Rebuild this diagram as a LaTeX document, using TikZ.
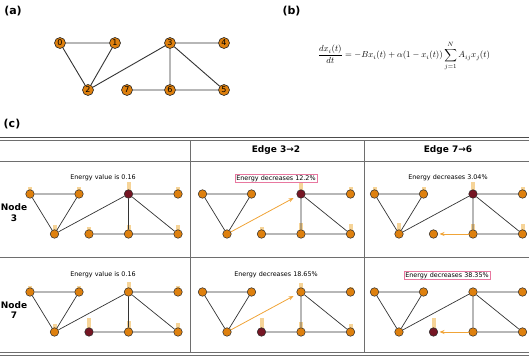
\documentclass[tikz,border=0pt]{standalone}
\usepackage{fontspec}
\setmainfont{DejaVu Sans}
\usepackage{graphicx}
\usetikzlibrary{backgrounds,arrows.meta}
\definecolor{nodeor}{RGB}{222,128,14}
\definecolor{hotred}{RGB}{118,22,36}
\definecolor{barc}{RGB}{246,212,152}
\definecolor{arrc}{RGB}{240,164,56}
\definecolor{pinkc}{RGB}{232,120,160}
\definecolor{rulec}{RGB}{110,110,110}
\newcommand\ebar[2]{\fill[barc] ([xshift=-2pt]#1.center) rectangle ([xshift=2pt,yshift=#2pt]#1.center);}
% #1 style of node 3, #2 style of node 7
\newcommand\cellnodes[2]{%
  \node[cnode] (n0) at (0,0) {};
  \node[cnode] (n1) at (49,0) {};
  \node[cnode,#1] (n3) at (98.5,0) {};
  \node[cnode] (n4) at (148,0) {};
  \node[cnode] (n2) at (24.5,40) {};
  \node[cnode,#2] (n7) at (59,40) {};
  \node[cnode] (n6) at (98.5,40) {};
  \node[cnode] (n5) at (148,40) {};}
\begin{document}
\begin{tikzpicture}[x=1pt,y=-1pt,
  anode/.style={circle,draw=black!85,line width=0.6pt,fill=nodeor,minimum size=11pt,inner sep=0pt,font=\fontsize{8}{8}\selectfont},
  cnode/.style={circle,draw=black!85,line width=0.5pt,fill=nodeor,minimum size=8.5pt,inner sep=0pt},
  hot/.style={fill=hotred},
  aedge/.style={draw=black!80,line width=0.9pt},
  cedge/.style={draw=black!80,line width=0.7pt},
  flow/.style={draw=arrc,line width=0.8pt,-{Stealth[length=5pt,width=4pt]}},
  plabel/.style={font=\fontsize{11}{12}\selectfont\bfseries},
  head/.style={font=\fontsize{9}{10}\selectfont\bfseries},
  rowlab/.style={font=\fontsize{9}{10.5}\selectfont\bfseries,align=center},
  title/.style={font=\fontsize{6.4}{7}\selectfont,inner sep=1pt},
  boxtitle/.style={title,draw=pinkc,line width=0.6pt,inner sep=1.2pt},
  rulel/.style={draw=rulec,line width=0.8pt}]
\useasboundingbox (0,0) rectangle (531,358);

% ---------- panel labels ----------
\node[plabel] (la) at (13,11) {(a)};
\node[plabel] (lb) at (291.5,11) {(b)};
\node[plabel] (lc) at (12,124) {(c)};

% ---------- panel (a) ----------
\node[anode] (a0) at (60,43) {0};
\node[anode] (a1) at (115,43) {1};
\node[anode] (a3) at (170,43) {3};
\node[anode] (a4) at (224,43) {4};
\node[anode] (a2) at (88,90) {2};
\node[anode] (a7) at (127,90) {7};
\node[anode] (a6) at (170,90) {6};
\node[anode] (a5) at (224,90) {5};
\begin{pgfonlayer}{background}
\draw[aedge] (a0)--(a1) (a0)--(a2) (a1)--(a2) (a2)--(a3) (a3)--(a4)
  (a3)--(a6) (a3)--(a5) (a7)--(a6) (a6)--(a5);
\end{pgfonlayer}

% ---------- panel (b) ----------
\node (eq) at (404,56) {\resizebox{172pt}{!}{$\displaystyle \frac{dx_i(t)}{dt}=-Bx_i(t)+\alpha(1-x_i(t))\sum_{j=1}^{N}A_{ij}x_j(t)$}};

% ---------- table rules ----------
\draw[rulel,draw=black!70] (0,137.8) -- (529,137.8);
\draw[rulel] (0,140.6) -- (529,140.6);
\draw[rulel] (0,161) -- (529,161);
\draw[rulel] (0,257) -- (529,257);
\draw[rulel] (0,352.7) -- (529,352.7);
\draw[rulel] (0,355.5) -- (529,355.5);
\draw[rulel] (190,140.6) -- (190,352.7);
\draw[rulel] (364.5,140.6) -- (364.5,352.7);

% headers
\node[head] (h1) at (276,150.5) {Edge 3→2};
\node[head] (h2) at (448,150.5) {Edge 7→6};
\node[rowlab] (r1) at (14,212.5) {Node\\3};
\node[rowlab] (r2) at (14,310) {Node\\7};

% ---------- row 1, col 1 ----------
\node[title] (t11) at (103,178) {Energy value is 0.16};
\begin{scope}[shift={(30,194)},name prefix=A-]
\cellnodes{hot}{}
\begin{pgfonlayer}{background}
\ebar{n0}{7}\ebar{n1}{7}\ebar{n3}{11.5}\ebar{n4}{7}
\ebar{n2}{9}\ebar{n7}{6.7}\ebar{n6}{9}\ebar{n5}{9}
\draw[cedge] (n0)--(n1) (n0)--(n2) (n1)--(n2) (n2)--(n3) (n3)--(n4)
  (n3)--(n6) (n3)--(n5) (n7)--(n6) (n6)--(n5);
\end{pgfonlayer}
\end{scope}

% ---------- row 1, col 2 ----------
\node[boxtitle] (t12) at (276,178.5) {Energy decreases 12.2\%};
\begin{scope}[shift={(202.5,194)},name prefix=B-]
\cellnodes{hot}{}
\begin{pgfonlayer}{background}
\ebar{n3}{12}\ebar{n4}{7}\ebar{n7}{7}\ebar{n6}{11}\ebar{n5}{10}
\draw[cedge] (n0)--(n1) (n0)--(n2) (n1)--(n2) (n3)--(n4)
  (n3)--(n6) (n3)--(n5) (n7)--(n6) (n6)--(n5);
\end{pgfonlayer}
\draw[flow,shorten >=4pt] (n2)--(n3);
\end{scope}

% ---------- row 1, col 3 ----------
\node[title] (t13) at (448,178) {Energy decreases 3.04\%};
\begin{scope}[shift={(374.5,194)},name prefix=C-]
\cellnodes{hot}{}
\begin{pgfonlayer}{background}
\ebar{n0}{7}\ebar{n1}{7}\ebar{n3}{12}\ebar{n4}{7}
\ebar{n2}{11}\ebar{n6}{10}\ebar{n5}{10}
\draw[cedge] (n0)--(n1) (n0)--(n2) (n1)--(n2) (n2)--(n3) (n3)--(n4)
  (n3)--(n6) (n3)--(n5) (n6)--(n5);
\end{pgfonlayer}
\draw[flow,shorten >=1.5pt] (n6)--(n7);
\end{scope}

% ---------- row 2, col 1 ----------
\node[title] (t21) at (103,275) {Energy value is 0.16};
\begin{scope}[shift={(30,292)},name prefix=D-]
\cellnodes{}{hot}
\begin{pgfonlayer}{background}
\ebar{n0}{6}\ebar{n1}{6}\ebar{n3}{10}\ebar{n4}{6}
\ebar{n2}{8}\ebar{n7}{14}\ebar{n6}{11}\ebar{n5}{9}
\draw[cedge] (n0)--(n1) (n0)--(n2) (n1)--(n2) (n2)--(n3) (n3)--(n4)
  (n3)--(n6) (n3)--(n5) (n7)--(n6) (n6)--(n5);
\end{pgfonlayer}
\end{scope}

% ---------- row 2, col 2 ----------
\node[title] (t22) at (276,275) {Energy decreases 18.65\%};
\begin{scope}[shift={(202.5,292)},name prefix=E-]
\cellnodes{}{hot}
\begin{pgfonlayer}{background}
\ebar{n3}{9}\ebar{n4}{5}\ebar{n7}{14}\ebar{n6}{10}\ebar{n5}{8}
\draw[cedge] (n0)--(n1) (n0)--(n2) (n1)--(n2) (n3)--(n4)
  (n3)--(n6) (n3)--(n5) (n7)--(n6) (n6)--(n5);
\end{pgfonlayer}
\draw[flow,shorten >=4pt] (n2)--(n3);
\end{scope}

% ---------- row 2, col 3 ----------
\node[boxtitle] (t23) at (447,275.5) {Energy decreases 38.35\%};
\begin{scope}[shift={(374.5,292)},name prefix=F-]
\cellnodes{}{hot}
\begin{pgfonlayer}{background}
\ebar{n7}{14}
\draw[cedge] (n0)--(n1) (n0)--(n2) (n1)--(n2) (n2)--(n3) (n3)--(n4)
  (n3)--(n6) (n3)--(n5) (n6)--(n5);
\end{pgfonlayer}
\draw[flow,shorten >=1.5pt] (n6)--(n7);
\end{scope}
\end{tikzpicture}
\end{document}
